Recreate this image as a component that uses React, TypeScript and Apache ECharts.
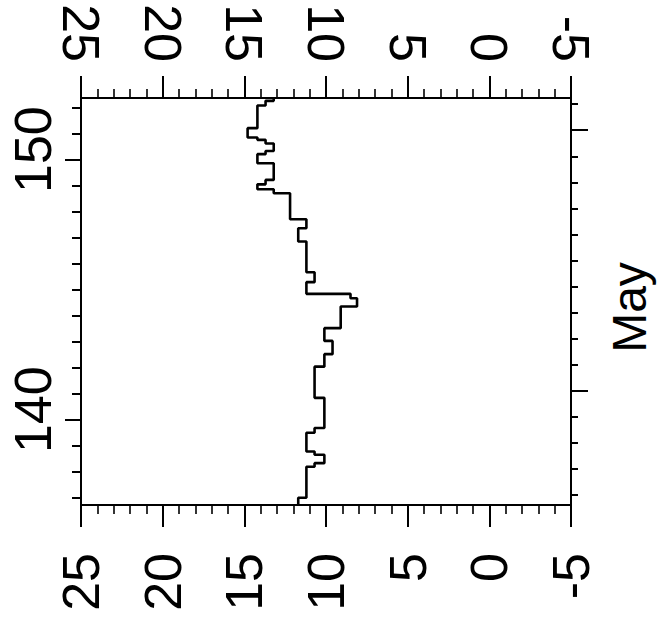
import React, { useEffect, useRef } from 'react';
import * as echarts from 'echarts';

// Day-of-year where each step of the histogram starts, and the step's value
const stepStart = [
  136.72, 137.0, 138.19, 138.33, 138.65, 138.78, 139.5, 139.68, 140.84, 142.04,
  142.52, 143.03, 143.52, 144.35, 144.67, 144.84, 145.29, 145.67, 146.85, 147.36,
  147.71, 148.71, 148.86, 149.05, 149.22, 149.86, 150.21, 150.33, 150.62, 150.76,
  150.85, 151.21, 152.08, 152.26,
];
const stepValue = [
  11.7, 11.2, 10.7, 10.1, 10.7, 11.2, 10.7, 10.1, 10.7, 10.1,
  9.6, 10.1, 9.1, 8.1, 8.5, 11.2, 10.7, 11.2, 11.7, 11.2,
  12.2, 13.2, 14.2, 13.7, 13.2, 14.2, 13.7, 13.2, 13.7, 14.2,
  14.8, 14.2, 13.7, 13.2,
];
const stepEndDay = 152.37;

const dayMin = 136.72;
const dayMax = 152.37;
const dayTicks = [137, 138, 139, 140, 141, 142, 143, 144, 145, 146, 147, 148, 149, 150, 151, 152];
const dayLabels = [140, 150];
const mayShift = 0.13;
const mayTicks = [137, 138, 139, 140, 141, 142, 143, 144, 145, 146, 147, 148, 149, 150, 151, 152];
const mayMajor = [141, 151];
const valueMin = -5;
const valueMax = 25;
const valueStep = 5;

const FONT = 'Liberation Sans';

export default function App() {
  const ref = useRef<HTMLDivElement>(null);
  useEffect(() => {
    const chart = echarts.init(ref.current as HTMLDivElement, null, { renderer: 'svg' });
    const pts: number[][] = [];
    for (let i = 0; i < stepStart.length; i++) {
      const end = i + 1 < stepStart.length ? stepStart[i + 1] : stepEndDay;
      pts.push([stepValue[i], stepStart[i]]);
      pts.push([stepValue[i], end]);
    }
    const line = { color: '#000', width: 2 };
    const xCommon = (pos: string, margin: number) => ({
      type: 'value',
      position: pos,
      inverse: true,
      min: valueMin,
      max: valueMax,
      interval: valueStep,
      axisLine: { show: true, onZero: false, lineStyle: line },
      axisTick: { show: true, length: 22, lineStyle: line },
      minorTick: { show: true, splitNumber: 5, length: 9, lineStyle: { color: '#000', width: 1.6 } },
      splitLine: { show: false },
      axisLabel: {
        rotate: 90,
        margin,
        fontSize: 52,
        fontFamily: FONT,
        color: '#000',
      },
    });
    const option: any = {
      animation: false,
      backgroundColor: '#fff',
      grid: { left: 81, top: 98, right: 87, bottom: 116, containLabel: false },
      xAxis: [xCommon('bottom', 48), xCommon('top', 36)],
      yAxis: [
        {
          type: 'value',
          position: 'left',
          min: dayMin,
          max: dayMax,
          axisLine: { show: true, onZero: false, lineStyle: line },
          axisTick: { show: true, customValues: dayTicks, length: 9, lineStyle: line },
          axisLabel: {
            customValues: dayLabels,
            rotate: 90,
            margin: 22,
            fontSize: 52,
            fontFamily: FONT,
            color: '#000',
            padding: [0, 0, 0, 20],
          },
          splitLine: { show: false },
        },
        {
          type: 'value',
          position: 'left',
          offset: 0,
          min: dayMin,
          max: dayMax,
          axisLine: { show: false, onZero: false },
          axisTick: { show: true, customValues: dayLabels, length: 16, lineStyle: line },
          axisLabel: { show: false },
          splitLine: { show: false },
        },
        {
          type: 'value',
          position: 'right',
          offset: 0,
          min: dayMin - mayShift,
          max: dayMax - mayShift,
          axisLine: { show: true, onZero: false, lineStyle: line },
          axisTick: { show: true, customValues: mayTicks, length: 7, lineStyle: line },
          axisLabel: { show: false },
          splitLine: { show: false },
          name: 'May',
          nameLocation: 'middle',
          nameRotate: 90,
          nameGap: 34,
          nameTextStyle: { fontSize: 48, fontFamily: FONT, color: '#000', padding: [0, 12, 0, 0] },
        },
        {
          type: 'value',
          position: 'right',
          offset: 0,
          min: dayMin - mayShift,
          max: dayMax - mayShift,
          axisLine: { show: false, onZero: false },
          axisTick: { show: true, customValues: mayMajor, length: 17, lineStyle: line },
          axisLabel: { show: false },
          splitLine: { show: false },
        },
      ],
      series: [
        {
          type: 'line',
          xAxisIndex: 0,
          yAxisIndex: 0,
          data: pts,
          showSymbol: false,
          symbol: 'none',
          lineStyle: { color: '#000', width: 2.6 },
          silent: true,
        },
      ],
    };
    chart.setOption(option);
    return () => chart.dispose();
  }, []);
  return (
    <div
      ref={ref}
      style={{ position: 'absolute', left: 0, top: 0, width: 661, height: 621, background: '#fff' }}
    />
  );
}
